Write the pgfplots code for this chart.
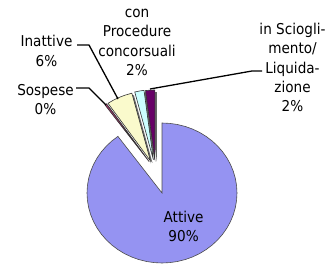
\documentclass[border=0pt]{standalone}
\usepackage{pgfplots}
\pgfplotsset{compat=1.18}
\usepackage{fontspec}
\setmainfont{DejaVu Sans}[FakeStretch=0.91]
\definecolor{cAtt}{HTML}{9593F2}
\definecolor{cSos}{HTML}{993366}
\definecolor{cIna}{HTML}{FAFACC}
\definecolor{cPro}{HTML}{CCFFFF}
\definecolor{cLiq}{HTML}{660066}
\begin{document}
\begin{tikzpicture}
\useasboundingbox (0,0) rectangle (329bp,266bp);
\begin{axis}[at={(0,0)}, anchor=south west, width=329bp, height=266bp,
  scale only axis, xmin=-162, xmax=167, ymin=-78.214, ymax=206.786,
  hide axis, clip=false]
% shadows of the small slices
\addplot[fill=black!60, draw=none, data cs=polar, xshift=-11bp, yshift=29.5bp] coordinates {(0,0) (126,75) (124.5,75) (0,0)} -- cycle;
\addplot[fill=black!60, draw=none, data cs=polar, xshift=-9.5bp, yshift=30bp] coordinates {(0,0) (124.5,75) (120,75) (115,75) (110,75) (104.4,75) (0,0)} -- cycle;
\addplot[fill=black!60, draw=none, data cs=polar, xshift=-6.6bp, yshift=31.2bp] coordinates {(0,0) (104.4,75) (100.8,75) (97.2,75) (0,0)} -- cycle;
\addplot[fill=black!60, draw=none, data cs=polar, xshift=-5.1bp, yshift=31bp] coordinates {(0,0) (97.2,75) (93.6,75) (90,75) (0,0)} -- cycle;
% Attive 90%
\addplot[fill=cAtt, draw=black!70, line width=0.6bp, data cs=polar] coordinates {(0,0)
 (126,75) (132,75) (138,75) (144,75) (150,75) (156,75) (162,75) (168,75) (174,75) (180,75)
 (186,75) (192,75) (198,75) (204,75) (210,75) (216,75) (222,75) (228,75) (234,75) (240,75)
 (246,75) (252,75) (258,75) (264,75) (270,75) (276,75) (282,75) (288,75) (294,75) (300,75)
 (306,75) (312,75) (318,75) (324,75) (330,75) (336,75) (342,75) (348,75) (354,75) (360,75)
 (366,75) (372,75) (378,75) (384,75) (390,75) (396,75) (402,75) (408,75) (414,75) (420,75)
 (426,75) (432,75) (438,75) (444,75) (450,75) (0,0)} -- cycle;
% Sospese 0%
\addplot[fill=cSos, draw=black!80, line width=0.6bp, data cs=polar, xshift=-13bp, yshift=31.5bp] coordinates {(0,0) (126,75) (124.5,75) (0,0)} -- cycle;
% Inattive 6%
\addplot[fill=cIna, draw=black!80, line width=0.6bp, data cs=polar, xshift=-11.5bp, yshift=32bp] coordinates {(0,0) (124.5,75) (120,75) (115,75) (110,75) (104.4,75) (0,0)} -- cycle;
% con Procedure concorsuali 2%
\addplot[fill=cPro, draw=black!80, line width=0.6bp, data cs=polar, xshift=-8.6bp, yshift=33.2bp] coordinates {(0,0) (104.4,75) (100.8,75) (97.2,75) (0,0)} -- cycle;
% in Scioglimento/Liquidazione 2%
\addplot[fill=cLiq, draw=black!80, line width=0.6bp, data cs=polar, xshift=-7.1bp, yshift=33bp] coordinates {(0,0) (97.2,75) (93.6,75) (90,75) (0,0)} -- cycle;
\end{axis}
\begin{axis}[at={(0,0)}, anchor=south west, width=329bp, height=266bp,
  scale only axis, xmin=0, xmax=329, ymin=0, ymax=266, y dir=reverse,
  hide axis, clip=false]
\addplot[black, line width=1.3bp] coordinates {(77,45) (89,45) (118,99)};
\addplot[black, line width=1.3bp] coordinates {(76,88) (89,88) (106,105)};
\addplot[black, line width=1.3bp] coordinates {(150,89) (252,71) (262,71)};
\begin{scope}[every node/.style={align=center, inner sep=0pt, font=\fontsize{15}{19.5}\selectfont}]
\node at (axis cs:46.5,51) {Inattive\\6\%};
\node at (axis cs:45.5,99.5) {Sospese\\0\%};
\node at (axis cs:137,42.5) {con\\Procedure\\concorsuali\\2\%};
\node at (axis cs:292.5,67.5) {in Sciogli-\\mento/\\Liquida-\\zione\\2\%};
\node at (axis cs:183.6,226.3) {Attive\\90\%};
\end{scope}
\end{axis}
\end{tikzpicture}
\end{document}
